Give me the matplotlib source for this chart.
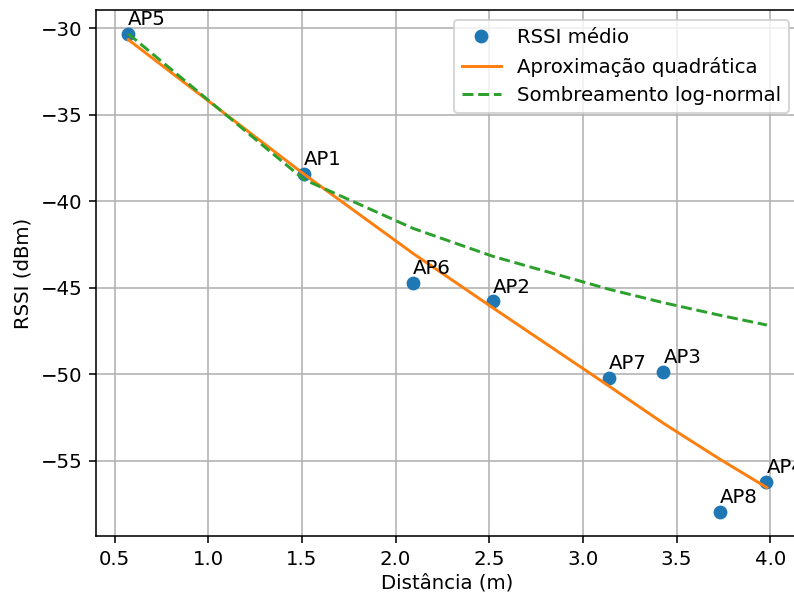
import numpy as np
import matplotlib
matplotlib.use("Agg")
import matplotlib.pyplot as plt

# valores medidos por AP
aps = ["AP1", "AP2", "AP3", "AP4", "AP5", "AP6", "AP7", "AP8"]
distancia = [1.51, 2.52, 3.43, 3.98, 0.573, 2.093, 3.139, 3.73]
rssi = [-38.41, -45.78, -49.84, -56.22, -30.31, -44.72, -50.20, -57.96]

# curvas avaliadas nas distancias ordenadas
dist_ord = [0.573, 1.51, 2.093, 2.52, 3.139, 3.431, 3.73, 3.982]
rssi_quad = [-30.65, -38.42, -43.01, -46.16, -50.68, -52.84, -54.90, -56.55]
rssi_lognormal = [-30.31, -38.73, -41.56, -43.18, -45.08, -45.86, -46.58, -47.15]

DPI = 142
fig = plt.figure(figsize=(794 / DPI, 593 / DPI), dpi=DPI)
ax = fig.add_axes([96.4 / 794, (593 - 535.9) / 593, 702.4 / 794, 526 / 593])

ax.plot(distancia, rssi, 'o', label='RSSI médio')
ax.plot(dist_ord, rssi_quad, '-', label='Aproximação quadrática')
ax.plot(dist_ord, rssi_lognormal, '--', label='Sombreamento log-normal')

for nome, x, y in zip(aps, distancia, rssi):
    ax.text(x, y + 0.5, nome)

ax.set_xlabel('Distância (m)', labelpad=2.5)
ax.set_ylabel('RSSI (dBm)')
ax.grid(True)
ax.legend(loc='upper right')

fig.savefig('out.png', dpi=DPI)
